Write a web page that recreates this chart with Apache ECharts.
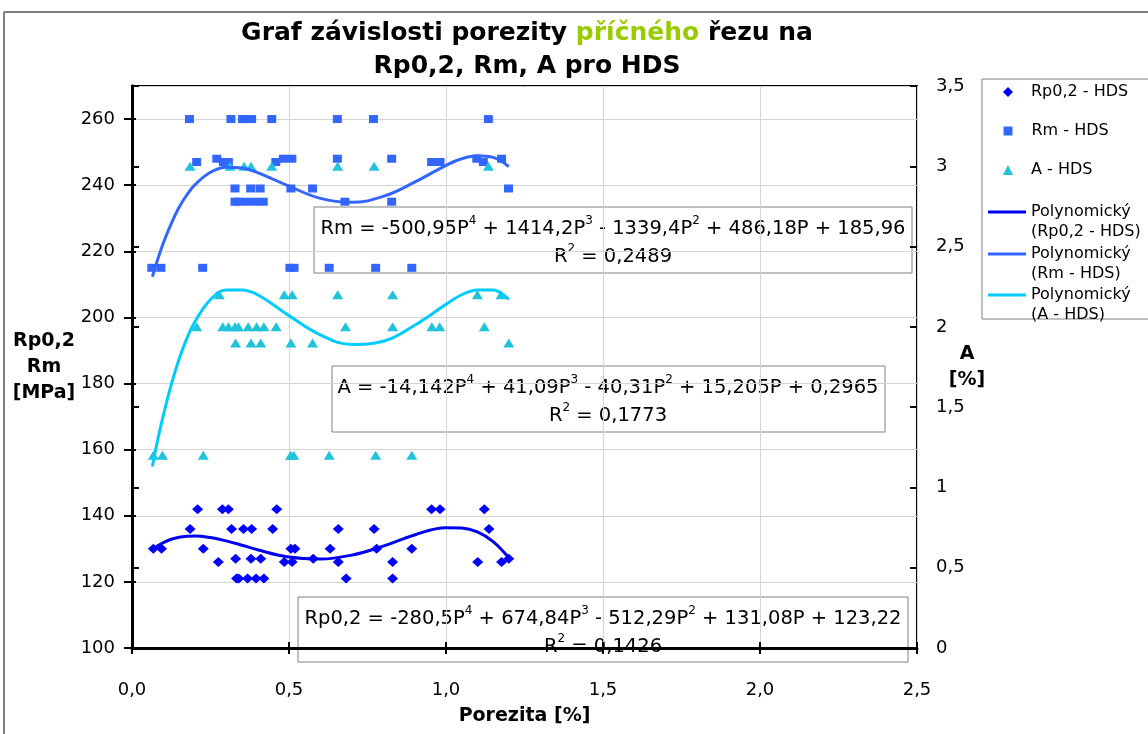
<!DOCTYPE html>
<html>
<head>
<meta charset="utf-8">
<script src="https://cdn.jsdelivr.net/npm/echarts@6/dist/echarts.min.js"></script>
<style>
html, body { margin: 0; padding: 0; background: #fff; }
#chart { width: 1148px; height: 734px; }
</style>
</head>
<body>
<div id="chart"></div>
<script>
// measured points [porezita %, value]
var rpPoints = [[0.068,130],[0.094,130],[0.185,136],[0.209,142],[0.227,130],[0.275,126],[0.288,142],[0.307,142],
    [0.317,136],[0.330,127],[0.333,121],[0.340,121],[0.355,136],[0.368,121],[0.379,127],[0.381,136],[0.395,121],
    [0.410,127],[0.420,121],[0.448,136],[0.461,142],[0.485,126],[0.506,130],[0.510,126],[0.519,130],[0.577,127],
    [0.631,130],[0.657,136],[0.657,126],[0.682,121],[0.771,136],[0.779,130],[0.830,126],[0.830,121],[0.891,130],
    [0.954,142],[0.981,142],[1.101,126],[1.122,142],[1.137,136],[1.177,126],[1.200,127]];
var rmPoints = [[0.063,215],[0.092,215],[0.183,260],[0.206,247],[0.225,215],[0.270,248],[0.291,247],[0.307,247],
    [0.315,260],[0.328,239],[0.328,235],[0.339,235],[0.352,260],[0.365,260],[0.381,260],[0.365,235],[0.378,239],
    [0.392,235],[0.418,235],[0.408,239],[0.445,260],[0.458,247],[0.482,248],[0.509,248],[0.506,239],[0.503,215],
    [0.516,215],[0.575,239],[0.628,215],[0.654,260],[0.654,248],[0.678,235],[0.769,260],[0.776,215],[0.827,248],
    [0.827,235],[0.891,215],[0.954,247],[0.981,247],[1.098,248],[1.119,247],[1.135,260],[1.177,248],[1.199,239]];
var aPoints = [[0.068,1.2],[0.097,1.2],[0.185,3.0],[0.206,2.0],[0.227,1.2],[0.278,2.2],[0.289,2.0],[0.307,2.0],
    [0.312,3.0],[0.328,2.0],[0.330,1.9],[0.339,2.0],[0.357,3.0],[0.370,2.0],[0.379,3.0],[0.379,1.9],[0.397,2.0],
    [0.410,1.9],[0.420,2.0],[0.445,3.0],[0.459,2.0],[0.485,2.2],[0.505,1.2],[0.506,1.9],[0.510,2.2],[0.515,1.2],
    [0.575,1.9],[0.628,1.2],[0.655,2.2],[0.655,3.0],[0.680,2.0],[0.771,3.0],[0.776,1.2],[0.830,2.2],[0.830,2.0],
    [0.891,1.2],[0.955,2.0],[0.980,2.0],[1.100,2.2],[1.122,2.0],[1.135,3.0],[1.175,2.2],[1.200,1.9]];

// trend curves read along the drawn polynomials
var trendX  = [0.065, 0.08, 0.1, 0.125, 0.15, 0.175, 0.2, 0.25, 0.3, 0.35, 0.4, 0.5, 0.6, 0.7, 0.8, 0.9, 1.0, 1.05, 1.1, 1.15, 1.2];
var rpTrend = [129.8, 130.8, 131.9, 132.9, 133.5, 133.8, 133.9, 133.4, 132.4, 131.1, 129.7, 127.5, 126.9, 128.1, 130.8, 134.2, 136.4, 136.3, 135.1, 132.2, 127.3];
var rmTrend = [212.3, 217.0, 222.6, 228.4, 233.3, 237.1, 240.1, 243.9, 245.4, 245.2, 243.8, 239.7, 236.0, 234.8, 236.6, 240.9, 246.0, 248.0, 248.9, 248.4, 245.6];
var aTrend  = [1.13, 1.28, 1.45, 1.64, 1.80, 1.93, 2.03, 2.17, 2.23, 2.23, 2.20, 2.07, 1.95, 1.89, 1.91, 2.01, 2.14, 2.20, 2.23, 2.23, 2.17];

var seriesNames = ['Rp0,2 - HDS', 'Rm - HDS', 'A - HDS',
    'Polynomický (Rp0,2 - HDS)', 'Polynomický (Rm - HDS)', 'Polynomický (A - HDS)'];

var FONT = 'DejaVu Sans';
var chart = echarts.init(document.getElementById('chart'));

function comma(v, d) {
    return (d == null ? String(v) : v.toFixed(d)).replace('.', ',');
}
function pairs(xs, ys) {
    return xs.map(function(x, i) { return [x, ys[i]]; });
}
// "P^4" -> rich superscript
function richEq(s) {
    return '{n|' + s.replace(/\^(\d)/g, '}{s|$1}{n|') + '}';
}
var eqRich = {
    n: { fontFamily: FONT, fontSize: 19.5, lineHeight: 28, fill: '#000' },
    s: { fontFamily: FONT, fontSize: 12, lineHeight: 10, verticalAlign: 'top', fill: '#000' }
};
function eqBox(x, y, w, h, cx, ty, line1, line2) {
    return [
        { type: 'rect', shape: { x: x, y: y, width: w, height: h }, style: { fill: 'none', stroke: '#808080', lineWidth: 1 } },
        { type: 'text', x: cx, y: ty, style: { text: richEq(line1) + '\n' + richEq(line2), rich: eqRich, align: 'center', verticalAlign: 'top' } }
    ];
}
var legendFont = { fontFamily: FONT, fontSize: 16, color: '#000', lineHeight: 20 };
// marker items: square icon, text pushed right with a padded rich token
function markerLegend(name, top, size) {
    return {
        data: [name], top: top, left: 1008 - size / 2, orient: 'vertical', padding: 0,
        itemWidth: size, itemHeight: size, selectedMode: false,
        formatter: '{t|{name}}',
        textStyle: Object.assign({ rich: { t: Object.assign({ padding: [0, 0, 0, 23 - size] }, legendFont) } }, legendFont)
    };
}
// trend items: thin bar icon level with the first text line
function lineLegend(name, top) {
    return {
        data: [{ name: name, icon: 'rect' }], top: top, left: 988, orient: 'vertical', padding: 0,
        itemWidth: 38, itemHeight: 3, selectedMode: false,
        formatter: function(n) { return '\n' + n.replace(' (', '\n('); },
        textStyle: legendFont
    };
}

var tickLine = { color: '#000', width: 2 };
var labelCommon = { fontFamily: FONT, fontSize: 18, color: '#000' };
var nameCommon = { fontFamily: FONT, fontSize: 19, fontWeight: 'bold', color: '#000', lineHeight: 26, align: 'center' };

var option = {
    animation: false,
    textStyle: { fontFamily: FONT },
    grid: { left: 132, right: 231, top: 86, bottom: 72, show: true, borderColor: '#000', borderWidth: 2 },
    xAxis: [{
        type: 'value', min: 0, max: 2.5, interval: 0.5, position: 'bottom',
        name: 'Porezita [%]', nameLocation: 'middle', nameGap: 55, nameMoveOverlap: false,
        nameTextStyle: nameCommon,
        axisLine: { show: true, onZero: false, lineStyle: { color: '#000', width: 3 } },
        axisTick: { show: true, length: 6, lineStyle: tickLine },
        axisLabel: Object.assign({ margin: 33, formatter: function(v) { return comma(v, 1); } }, labelCommon),
        splitLine: { show: true, lineStyle: { color: '#d4d4d4', width: 1 } }
    }, {
        type: 'value', min: 0, max: 2.5, interval: 0.5, position: 'bottom',
        axisLine: { show: false }, axisLabel: { show: false }, splitLine: { show: false },
        axisTick: { show: true, inside: true, length: 6, lineStyle: tickLine }
    }],
    yAxis: [{
        type: 'value', min: 100, max: 270, interval: 20, position: 'left',
        name: 'Rp0,2\nRm\n[MPa]', nameLocation: 'middle', nameRotate: 0, nameGap: 88, nameMoveOverlap: false,
        nameTextStyle: nameCommon,
        axisLine: { show: true, lineStyle: { color: '#000', width: 3 } },
        axisTick: { show: true, length: 8, lineStyle: tickLine },
        axisLabel: Object.assign({ margin: 17, showMaxLabel: false }, labelCommon),
        splitLine: { show: true, lineStyle: { color: '#d4d4d4', width: 1 } }
    }, {
        type: 'value', min: 0, max: 3.5, interval: 0.5, position: 'right',
        name: 'A\n[%]', nameLocation: 'middle', nameRotate: 0, nameGap: 50, nameMoveOverlap: false,
        nameTextStyle: nameCommon,
        axisLine: { show: true, lineStyle: { color: '#000', width: 3 } },
        axisTick: { show: true, length: 7, lineStyle: tickLine },
        axisLabel: Object.assign({ margin: 19, formatter: function(v) { return comma(v); } }, labelCommon),
        splitLine: { show: false }
    }, {
        type: 'value', min: 100, max: 270, interval: 20, position: 'left',
        axisLine: { show: false }, axisLabel: { show: false }, splitLine: { show: false },
        axisTick: { show: true, inside: true, length: 4, lineStyle: tickLine }
    }, {
        type: 'value', min: 0, max: 3.5, interval: 0.5, position: 'right',
        axisLine: { show: false }, axisLabel: { show: false }, splitLine: { show: false },
        axisTick: { show: true, inside: true, length: 7, lineStyle: tickLine }
    }],
    legend: [
        markerLegend(seriesNames[0], 82, 10),
        markerLegend(seriesNames[1], 121, 9),
        markerLegend(seriesNames[2], 160, 10),
        lineLegend(seriesNames[3], 182),
        lineLegend(seriesNames[4], 224),
        lineLegend(seriesNames[5], 265)
    ],
    series: [{
        name: seriesNames[0], type: 'scatter', symbol: 'diamond', symbolSize: [11, 10],
        itemStyle: { color: '#0000FF', opacity: 1 }, data: rpPoints
    }, {
        name: seriesNames[1], type: 'scatter', symbol: 'rect', symbolSize: [9, 8],
        itemStyle: { color: '#3366FF', opacity: 1 }, data: rmPoints
    }, {
        name: seriesNames[2], type: 'scatter', symbol: 'triangle', symbolSize: [11, 9], yAxisIndex: 1,
        itemStyle: { color: '#1FC3DC', opacity: 1 }, data: aPoints
    }, {
        name: seriesNames[3], type: 'line', symbol: 'none', smooth: 0.4,
        lineStyle: { color: '#0000EE', width: 3 }, itemStyle: { color: '#0000EE' }, data: pairs(trendX, rpTrend)
    }, {
        name: seriesNames[4], type: 'line', symbol: 'none', smooth: 0.4,
        lineStyle: { color: '#3366FF', width: 3 }, itemStyle: { color: '#3366FF' }, data: pairs(trendX, rmTrend)
    }, {
        name: seriesNames[5], type: 'line', symbol: 'none', smooth: 0.4, yAxisIndex: 1,
        lineStyle: { color: '#00CCFF', width: 3 }, itemStyle: { color: '#00CCFF' }, data: pairs(trendX, aTrend)
    }],
    graphic: [
        { type: 'line', shape: { x1: 4, y1: 12, x2: 1148, y2: 12 }, style: { stroke: '#7f7f7f', lineWidth: 2 } },
        { type: 'line', shape: { x1: 4, y1: 12, x2: 4, y2: 734 }, style: { stroke: '#7f7f7f', lineWidth: 2 } },
        { type: 'rect', shape: { x: 982, y: 79, width: 170, height: 240 }, style: { fill: 'none', stroke: '#808080', lineWidth: 1 } },
        {
            type: 'text', x: 527, y: 17,
            style: {
                text: '{b|Graf závislosti porezity }{g|příčného}{b| řezu na}\n{b|Rp0,2, Rm, A pro HDS}',
                align: 'center', verticalAlign: 'top',
                rich: {
                    b: { fontFamily: FONT, fontSize: 25, fontWeight: 'bold', lineHeight: 33, fill: '#000' },
                    g: { fontFamily: FONT, fontSize: 25, fontWeight: 'bold', lineHeight: 33, fill: '#99CC00' }
                }
            }
        }
    ].concat(
        eqBox(314, 207, 598, 66, 613, 215, 'Rm = -500,95P^4 + 1414,2P^3 - 1339,4P^2 + 486,18P + 185,96', 'R^2 = 0,2489'),
        eqBox(332, 366, 553, 66, 608, 374, 'A = -14,142P^4 + 41,09P^3 - 40,31P^2 + 15,205P + 0,2965', 'R^2 = 0,1773'),
        eqBox(298, 597, 610, 65, 603, 605, 'Rp0,2 = -280,5P^4 + 674,84P^3 - 512,29P^2 + 131,08P + 123,22', 'R^2 = 0,1426')
    )
};
chart.setOption(option);
</script>
</body>
</html>
